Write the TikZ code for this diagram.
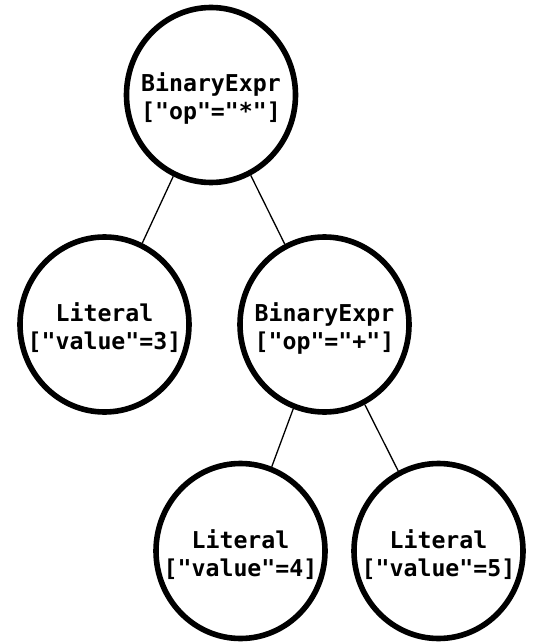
\documentclass[tikz,border=0pt]{standalone}
\usepackage{fontspec}
\setmonofont{DejaVu Sans Mono}
\usepackage{tikz}
\usetikzlibrary{shapes.geometric}

\tikzset{
  astnode/.style={ellipse,draw,line width=2.8pt,minimum width=84.5pt,minimum height=87.5pt,
    inner sep=-12pt,align=center,text height=27pt,
    font=\ttfamily\bfseries\fontsize{11.6}{14}\selectfont},
  astedge/.style={line width=0.65pt}
}

\begin{document}
\begin{tikzpicture}[x=0.5pt,y=-0.5pt]
\useasboundingbox (0,0) rectangle (533,642);
\node[astnode] (root) at (211,95) {BinaryExpr\\{}["op"="*"]};
\node[astnode] (lit3) at (104.5,324.5) {Literal\\{}["value"=3]};
\node[astnode] (plus) at (324.5,324.5) {BinaryExpr\\{}["op"="+"]};
\node[astnode] (lit4) at (240.5,551) {Literal\\{}["value"=4]};
\node[astnode] (lit5) at (438.5,551) {Literal\\{}["value"=5]};
\draw[astedge] (root) -- (lit3);
\draw[astedge] (root) -- (plus);
\draw[astedge] (plus) -- (lit4);
\draw[astedge] (plus) -- (lit5);
\end{tikzpicture}
\end{document}
